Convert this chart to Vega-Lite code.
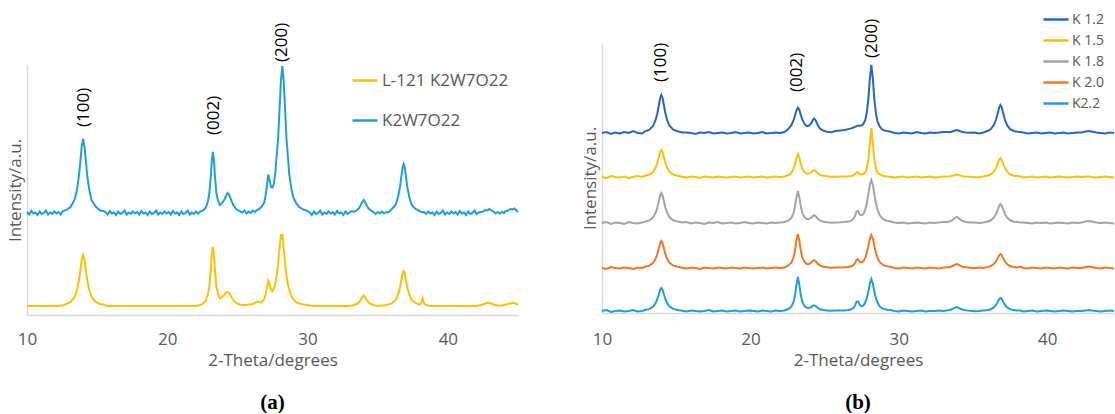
{
  "$schema": "https://vega.github.io/schema/vega-lite/v6.json",
  "background": "white",
  "padding": {"left": 6, "top": 5, "right": 0, "bottom": 0},
  "bounds": "flush",
  "spacing": 84,
  "config": {
    "view": {"stroke": null},
    "font": "Open Sans",
    "axis": {"domainColor": "#d9d9d9", "domainWidth": 1.5, "grid": false, "labelColor": "#595959", "labelFontSize": 17, "labelFont": "Open Sans", "titleColor": "#595959", "titleFontSize": 17, "titleFontWeight": "normal", "titleFont": "Open Sans"},
    "legend": {"labelColor": "#595959", "labelFont": "Open Sans", "symbolType": "stroke", "symbolSize": 625, "symbolStrokeWidth": 2.5},
    "title": {"font": "Liberation Serif", "fontSize": 21, "fontWeight": "bold", "color": "#000000"}
  },
  "resolve": {"scale": {"color": "independent", "x": "independent", "y": "independent"}, "legend": {"color": "independent"}},
  "hconcat": [
    {
      "width": 491,
      "height": 272,
      "title": {"text": "(a)", "orient": "bottom", "offset": 24},
      "data": {"values": [
{"x":10,"k":103,"l":9},{"x":10.15,"k":100.5,"l":9},{"x":10.3,"k":104,"l":9},{"x":10.45,"k":101.5,"l":9},{"x":10.6,"k":102.5,"l":9},{"x":10.75,"k":100,"l":9},{"x":10.9,"k":103.5,"l":9},{"x":11.05,"k":101,"l":9},{"x":11.2,"k":102,"l":9},{"x":11.35,"k":104.5,"l":9},{"x":11.5,"k":100.5,"l":9},{"x":11.65,"k":102.5,"l":9},{"x":11.8,"k":101,"l":9},{"x":11.95,"k":103.5,"l":9},{"x":12.1,"k":101.5,"l":9},{"x":12.25,"k":103,"l":9},{"x":12.4,"k":100.5,"l":9.5},{"x":12.55,"k":104,"l":9.5},
{"x":12.8,"k":105,"l":11},{"x":13.1,"k":108,"l":13},{"x":13.4,"k":115.5,"l":18},{"x":13.55,"k":124,"l":24.5},{"x":13.7,"k":139,"l":34.5},{"x":13.8,"k":153,"l":44},{"x":13.9,"k":168.5,"l":55},{"x":14,"k":176,"l":60},{"x":14.1,"k":168,"l":55},{"x":14.2,"k":153.5,"l":44},{"x":14.3,"k":138.5,"l":34.5},{"x":14.45,"k":124.5,"l":24.5},{"x":14.6,"k":115,"l":18},{"x":14.9,"k":108.5,"l":13},{"x":15.2,"k":104.5,"l":11},{"x":15.45,"k":104,"l":10.5},
{"x":15.6,"k":103,"l":9.5},{"x":15.75,"k":100.5,"l":9},{"x":15.9,"k":104,"l":9},{"x":16.05,"k":101.5,"l":9},{"x":16.2,"k":102.5,"l":9},{"x":16.35,"k":100,"l":9},{"x":16.5,"k":103.5,"l":9},{"x":16.65,"k":101,"l":9},{"x":16.8,"k":102,"l":9},{"x":16.95,"k":104.5,"l":9},{"x":17.1,"k":100.5,"l":9},{"x":17.25,"k":102.5,"l":9},{"x":17.4,"k":101,"l":9},{"x":17.55,"k":103.5,"l":9},{"x":17.7,"k":101.5,"l":9},{"x":17.85,"k":103,"l":9},{"x":18,"k":100.5,"l":9},{"x":18.15,"k":104,"l":9},{"x":18.3,"k":101.5,"l":9},{"x":18.45,"k":102.5,"l":9},{"x":18.6,"k":100,"l":9},{"x":18.75,"k":103.5,"l":9},{"x":18.9,"k":101,"l":9},{"x":19.05,"k":102,"l":9},{"x":19.2,"k":104.5,"l":9},{"x":19.35,"k":100.5,"l":9},{"x":19.5,"k":102.5,"l":9},{"x":19.65,"k":101,"l":9},{"x":19.8,"k":103.5,"l":9},{"x":19.95,"k":101.5,"l":9},{"x":20.1,"k":103,"l":9},{"x":20.25,"k":100.5,"l":9},{"x":20.4,"k":104,"l":9},{"x":20.55,"k":101.5,"l":9},{"x":20.7,"k":102.5,"l":9},{"x":20.85,"k":100,"l":9},{"x":21,"k":103.5,"l":9},{"x":21.15,"k":101,"l":9},{"x":21.3,"k":102,"l":9},{"x":21.45,"k":104.5,"l":9},{"x":21.6,"k":100.5,"l":9},{"x":21.75,"k":102.5,"l":9},{"x":21.9,"k":101,"l":9},{"x":22.05,"k":103.5,"l":9},{"x":22.2,"k":101.5,"l":9.5},{"x":22.35,"k":103.5,"l":10},
{"x":22.55,"k":104.5,"l":11.5},{"x":22.75,"k":107.5,"l":14.5},{"x":22.9,"k":114,"l":21},{"x":23,"k":122,"l":28.5},{"x":23.1,"k":138.5,"l":44.5},{"x":23.18,"k":155.5,"l":61},{"x":23.25,"k":163,"l":68},{"x":23.32,"k":155.5,"l":60},{"x":23.4,"k":138.5,"l":44.5},{"x":23.5,"k":122,"l":28.5},{"x":23.6,"k":115.5,"l":22},{"x":23.75,"k":110,"l":16.5},{"x":23.9,"k":112,"l":18},{"x":24.05,"k":115,"l":20},{"x":24.2,"k":119.5,"l":22.5},{"x":24.3,"k":122,"l":23},{"x":24.4,"k":120.5,"l":22},{"x":24.55,"k":115,"l":18.5},{"x":24.7,"k":110,"l":15},{"x":24.9,"k":106,"l":12},{"x":25.15,"k":104,"l":10.5},
{"x":25.35,"k":102.5,"l":10},{"x":25.5,"k":104.5,"l":10},{"x":25.65,"k":101.5,"l":10},{"x":25.8,"k":103.5,"l":10.5},{"x":25.95,"k":102,"l":10.5},{"x":26.1,"k":104.5,"l":11},{"x":26.25,"k":103,"l":12},{"x":26.4,"k":105,"l":13.5},{"x":26.55,"k":106,"l":13},{"x":26.7,"k":108,"l":12.5},{"x":26.9,"k":112,"l":15.5},{"x":27,"k":119,"l":20},{"x":27.1,"k":129,"l":27},{"x":27.2,"k":140.5,"l":34},{"x":27.3,"k":134,"l":29.6},{"x":27.4,"k":128,"l":25.6},{"x":27.5,"k":127.5,"l":24},{"x":27.6,"k":131.5,"l":27},{"x":27.7,"k":142,"l":31.6},{"x":27.8,"k":159.5,"l":39.5},{"x":27.9,"k":176.5,"l":51.5},{"x":28,"k":205.5,"l":66.6},{"x":28.1,"k":234,"l":80},{"x":28.2,"k":249,"l":80},{"x":28.3,"k":234,"l":66.6},{"x":28.4,"k":204.5,"l":51.5},{"x":28.5,"k":175.5,"l":39},{"x":28.6,"k":158,"l":30.6},{"x":28.7,"k":140,"l":25},{"x":28.85,"k":125.5,"l":19},{"x":29,"k":117,"l":15.5},{"x":29.2,"k":111.5,"l":12.6},{"x":29.4,"k":108,"l":11.5},{"x":29.7,"k":105.5,"l":10.6},{"x":30,"k":104,"l":10},
{"x":30.15,"k":102.5,"l":9.5},{"x":30.3,"k":100,"l":9},{"x":30.45,"k":103.5,"l":9},{"x":30.6,"k":101,"l":9},{"x":30.75,"k":102,"l":9},{"x":30.9,"k":104.5,"l":9},{"x":31.05,"k":100.5,"l":9},{"x":31.2,"k":102.5,"l":9},{"x":31.35,"k":101,"l":9},{"x":31.5,"k":103.5,"l":9},{"x":31.65,"k":101.5,"l":9},{"x":31.8,"k":103,"l":9},{"x":31.95,"k":100.5,"l":9},{"x":32.1,"k":104,"l":9},{"x":32.25,"k":101.5,"l":9},{"x":32.4,"k":102.5,"l":9},{"x":32.55,"k":100,"l":9},{"x":32.7,"k":103.5,"l":9},{"x":32.85,"k":101,"l":9},{"x":33,"k":102.5,"l":9.3},{"x":33.15,"k":104,"l":9.5},
{"x":33.3,"k":103.2,"l":10},{"x":33.5,"k":104.5,"l":11},{"x":33.65,"k":106.5,"l":12.5},{"x":33.8,"k":110,"l":15.3},{"x":33.9,"k":113,"l":18},{"x":34,"k":115,"l":19.5},{"x":34.1,"k":113,"l":18},{"x":34.2,"k":110,"l":15.3},{"x":34.35,"k":106.5,"l":12.5},{"x":34.5,"k":104.5,"l":11},{"x":34.7,"k":103,"l":10},{"x":34.85,"k":101,"l":9.5},{"x":35,"k":103,"l":9.3},{"x":35.15,"k":101.5,"l":9.3},{"x":35.3,"k":103.5,"l":9.5},{"x":35.45,"k":101.5,"l":9.5},{"x":35.6,"k":103,"l":10},{"x":35.75,"k":102.5,"l":10.5},{"x":35.9,"k":104.5,"l":11},
{"x":36,"k":106,"l":12},{"x":36.15,"k":108,"l":13.5},{"x":36.3,"k":111,"l":15.3},{"x":36.45,"k":118,"l":20.5},{"x":36.6,"k":129,"l":28},{"x":36.7,"k":140,"l":36},{"x":36.78,"k":148,"l":42},{"x":36.85,"k":151,"l":44},{"x":36.92,"k":148,"l":42},{"x":37,"k":140,"l":36},{"x":37.1,"k":129,"l":28},{"x":37.25,"k":118,"l":20.5},{"x":37.4,"k":111,"l":15.3},{"x":37.55,"k":108,"l":13.5},{"x":37.7,"k":106,"l":12},{"x":37.85,"k":105,"l":11},{"x":38,"k":104,"l":10.5},{"x":38.1,"k":103,"l":12},{"x":38.2,"k":102.5,"l":17},{"x":38.3,"k":103,"l":12},{"x":38.45,"k":101,"l":10},{"x":38.6,"k":103.5,"l":9.5},{"x":38.75,"k":101.5,"l":9.3},
{"x":38.9,"k":102.5,"l":9},{"x":39.05,"k":100,"l":9},{"x":39.2,"k":103.5,"l":9},{"x":39.35,"k":101,"l":9},{"x":39.5,"k":102,"l":9},{"x":39.65,"k":104.5,"l":9},{"x":39.8,"k":100.5,"l":9},{"x":39.95,"k":102.5,"l":9},{"x":40.1,"k":101,"l":9},{"x":40.25,"k":103.5,"l":9},{"x":40.4,"k":101.5,"l":9},{"x":40.55,"k":103,"l":9},{"x":40.7,"k":100.5,"l":9},{"x":40.85,"k":104,"l":9},{"x":41,"k":101.5,"l":9},{"x":41.15,"k":102.5,"l":9},{"x":41.3,"k":100,"l":9},{"x":41.45,"k":103.5,"l":9},{"x":41.6,"k":101,"l":9},{"x":41.75,"k":102,"l":9},{"x":41.9,"k":104.5,"l":9},{"x":42.05,"k":101,"l":9},{"x":42.2,"k":102.5,"l":9.5},{"x":42.35,"k":103,"l":10},{"x":42.5,"k":103.5,"l":10.5},{"x":42.65,"k":105,"l":11.5},{"x":42.8,"k":104.5,"l":12},{"x":42.95,"k":106,"l":12},{"x":43.1,"k":104.5,"l":11.5},{"x":43.25,"k":103.5,"l":10.5},{"x":43.4,"k":101.5,"l":10},{"x":43.55,"k":103,"l":9.5},{"x":43.7,"k":101.5,"l":9.5},{"x":43.85,"k":103,"l":9.5},{"x":44,"k":102,"l":10},{"x":44.15,"k":104,"l":10.5},{"x":44.3,"k":104.5,"l":11},{"x":44.45,"k":106,"l":11.5},{"x":44.6,"k":105.5,"l":12},{"x":44.75,"k":106.5,"l":12},{"x":44.9,"k":104.5,"l":11},{"x":45,"k":103,"l":10}
      ]},
      "encoding": {
        "x": {"field": "x", "type": "quantitative", "scale": {"domain": [10, 45], "nice": false, "zero": false},
              "axis": {"values": [10, 20, 30, 40], "ticks": false, "labelFlush": false, "labelPadding": 16, "title": "2-Theta/degrees", "titlePadding": 5}}
      },
      "layer": [
        {"mark": {"type": "line", "strokeWidth": 2},
         "encoding": {
           "y": {"field": "l", "type": "quantitative", "scale": {"domain": [0, 250], "range": [272, 22], "nice": false, "zero": false}, "axis": {"title": "Intensity/a.u.", "labels": false, "ticks": false, "titlePadding": 3}},
           "color": {"datum": "L-121 K2W7O22", "type": "nominal", "scale": {"domain": ["L-121 K2W7O22", "K2W7O22"], "range": ["#ffc000", "#1f9fdc"]},
                     "legend": {"orient": "none", "legendX": 324, "legendY": 23.5, "title": null, "labelFontSize": 17, "labelOffset": 3, "rowPadding": 18}}
         }},
        {"mark": {"type": "line", "strokeWidth": 2},
         "encoding": {
           "y": {"field": "k", "type": "quantitative", "scale": {"domain": [0, 250], "range": [272, 22], "nice": false, "zero": false}, "axis": {"title": "Intensity/a.u.", "labels": false, "ticks": false, "titlePadding": 3}},
           "color": {"datum": "K2W7O22", "type": "nominal", "scale": {"domain": ["L-121 K2W7O22", "K2W7O22"], "range": ["#ffc000", "#1f9fdc"]},
                     "legend": {"orient": "none", "legendX": 324, "legendY": 23.5, "title": null, "labelFontSize": 17, "labelOffset": 3, "rowPadding": 18}}
         }},
        {"data": {"values": [{"x": 14.06, "y": 188, "t": "(100)"}, {"x": 23.33, "y": 180, "t": "(002)"}, {"x": 28.17, "y": 253, "t": "(200)"}]},
         "mark": {"type": "text", "angle": 270, "align": "left", "baseline": "middle", "fontSize": 17, "font": "Open Sans", "color": "#000000"},
         "encoding": {
           "y": {"field": "y", "type": "quantitative", "scale": {"domain": [0, 250], "range": [272, 22], "nice": false, "zero": false}, "axis": {"title": "Intensity/a.u.", "labels": false, "ticks": false, "titlePadding": 3}},
           "text": {"field": "t"}
         }}
      ]
    },
    {
      "width": 512,
      "height": 270,
      "title": {"text": "(b)", "orient": "bottom", "offset": 24},
      "data": {"values": [
{"x":10,"a":180,"b":136,"c":90,"d":45,"e":2},
{"x":10.3,"a":181,"b":135,"c":91,"d":44,"e":3},
{"x":10.6,"a":179,"b":137,"c":89,"d":46,"e":1},
{"x":10.9,"a":180.5,"b":136,"c":90.5,"d":45,"e":2},
{"x":11.2,"a":179.5,"b":135.5,"c":90,"d":44.5,"e":2.5},
{"x":11.5,"a":181,"b":136.5,"c":89,"d":45.5,"e":1.5},
{"x":11.8,"a":180,"b":135,"c":91,"d":45,"e":2},
{"x":12.1,"a":182,"b":136,"c":90,"d":44,"e":3},
{"x":12.4,"a":180,"b":137,"c":89.5,"d":45.5,"e":1.5},
{"x":12.7,"a":179.5,"b":136,"c":90.5,"d":45,"e":2},
{"x":12.9,"a":181.7,"b":137.2,"c":91.4,"d":46.2,"e":3},
{"x":13.2,"a":183.4,"b":138.4,"c":92.7,"d":47.4,"e":4.1},
{"x":13.45,"a":187.2,"b":141.1,"c":95.7,"d":50.1,"e":6.4},
{"x":13.6,"a":192.5,"b":144.9,"c":99.9,"d":53.9,"e":9.6},
{"x":13.72,"a":199,"b":149.5,"c":105,"d":58.5,"e":13.5},
{"x":13.82,"a":207,"b":155.2,"c":111.3,"d":64.2,"e":18.3},
{"x":13.92,"a":215,"b":160.8,"c":117.6,"d":69.8,"e":23.2},
{"x":14,"a":218,"b":163,"c":120,"d":72,"e":25},
{"x":14.08,"a":215,"b":160.8,"c":117.6,"d":69.8,"e":23.2},
{"x":14.18,"a":207,"b":155.2,"c":111.3,"d":64.2,"e":18.3},
{"x":14.28,"a":199,"b":149.5,"c":105,"d":58.5,"e":13.5},
{"x":14.4,"a":192.5,"b":144.9,"c":99.9,"d":53.9,"e":9.6},
{"x":14.55,"a":187.2,"b":141.1,"c":95.7,"d":50.1,"e":6.4},
{"x":14.8,"a":183.4,"b":138.4,"c":92.7,"d":47.4,"e":4.1},
{"x":15.1,"a":181.7,"b":137.2,"c":91.4,"d":46.2,"e":3},
{"x":15.4,"a":180.6,"b":136.3,"c":90.4,"d":45.3,"e":2.2},
{"x":15.7,"a":180.5,"b":135.5,"c":91,"d":44.5,"e":1.5},
{"x":16,"a":180,"b":136.5,"c":89.5,"d":45.5,"e":2.5},
{"x":16.3,"a":179,"b":136,"c":90.5,"d":45,"e":2},
{"x":16.6,"a":180.5,"b":135,"c":90,"d":44,"e":1.5},
{"x":16.9,"a":180,"b":136.5,"c":89,"d":45.5,"e":2},
{"x":17.2,"a":181,"b":136,"c":90.5,"d":45,"e":3},
{"x":17.5,"a":179.5,"b":135.5,"c":90,"d":44.5,"e":1.5},
{"x":17.8,"a":180,"b":136.5,"c":91,"d":45.5,"e":2},
{"x":18.1,"a":180.5,"b":136,"c":89.5,"d":45,"e":2.5},
{"x":18.4,"a":179.5,"b":135.5,"c":90,"d":44.5,"e":1.5},
{"x":18.7,"a":180,"b":136,"c":90.5,"d":45.5,"e":2},
{"x":19,"a":181,"b":136.5,"c":89.5,"d":45,"e":2.5},
{"x":19.3,"a":179.5,"b":135.5,"c":90,"d":44.5,"e":1.5},
{"x":19.6,"a":180,"b":136,"c":91,"d":45.5,"e":2},
{"x":19.9,"a":180.5,"b":136.5,"c":90,"d":45,"e":2.5},
{"x":20.2,"a":179.5,"b":135.5,"c":89.5,"d":44.5,"e":2},
{"x":20.5,"a":180,"b":136,"c":90.5,"d":45,"e":1.5},
{"x":20.8,"a":181,"b":136.5,"c":90,"d":45.5,"e":2.5},
{"x":21.1,"a":179.5,"b":135.5,"c":89.5,"d":44.5,"e":2},
{"x":21.4,"a":180,"b":136,"c":90.5,"d":45,"e":1.5},
{"x":21.7,"a":180.5,"b":136.5,"c":90,"d":45.5,"e":2.5},
{"x":22,"a":180,"b":136,"c":90.5,"d":45,"e":2},
{"x":22.3,"a":181,"b":136.5,"c":91,"d":45.5,"e":2.5},
{"x":22.55,"a":184,"b":137.8,"c":92.4,"d":47.6,"e":4},
{"x":22.75,"a":187.5,"b":139.9,"c":94.8,"d":50.1,"e":6.1},
{"x":22.9,"a":192.5,"b":144,"c":99.6,"d":55.2,"e":10.8},
{"x":23,"a":197.3,"b":148.7,"c":106,"d":62,"e":17.3},
{"x":23.1,"a":202.5,"b":155,"c":115.6,"d":72.2,"e":27.8},
{"x":23.2,"a":205.5,"b":159,"c":122,"d":79,"e":36},
{"x":23.3,"a":203,"b":155,"c":115.6,"d":72.2,"e":27.8},
{"x":23.4,"a":198,"b":148.9,"c":106.3,"d":62.3,"e":17.4},
{"x":23.5,"a":193.4,"b":144.3,"c":100,"d":55.6,"e":11.1},
{"x":23.65,"a":189,"b":140.6,"c":95.6,"d":50.9,"e":6.7},
{"x":23.8,"a":186.8,"b":139.4,"c":93.9,"d":49,"e":5.3},
{"x":23.95,"a":187.3,"b":139.5,"c":93.9,"d":49,"e":5.1},
{"x":24.1,"a":189.8,"b":140.7,"c":95.3,"d":50.4,"e":6},
{"x":24.2,"a":192.9,"b":142.1,"c":96.9,"d":52,"e":7.1},
{"x":24.3,"a":194.5,"b":142.8,"c":97.8,"d":52.8,"e":7.7},
{"x":24.4,"a":192.5,"b":141.9,"c":96.7,"d":51.7,"e":6.9},
{"x":24.55,"a":187.5,"b":139.6,"c":94.1,"d":49.1,"e":5},
{"x":24.7,"a":184.3,"b":138.1,"c":92.4,"d":47.4,"e":3.8},
{"x":24.9,"a":182.3,"b":137.2,"c":91.3,"d":46.3,"e":3},
{"x":25.15,"a":181.3,"b":136.7,"c":90.7,"d":45.7,"e":2.5},
{"x":25.45,"a":180.8,"b":136.3,"c":90.3,"d":45.3,"e":2.2},
{"x":25.75,"a":182,"b":136.3,"c":90.6,"d":45.4,"e":2.4},
{"x":26.05,"a":182.5,"b":136.4,"c":90.7,"d":45.5,"e":2.4},
{"x":26.35,"a":183,"b":136.5,"c":90.9,"d":45.7,"e":2.5},
{"x":26.6,"a":183.9,"b":136.7,"c":91.6,"d":46.1,"e":3},
{"x":26.8,"a":184.6,"b":137,"c":92.4,"d":46.8,"e":3.7},
{"x":26.95,"a":185.5,"b":137.7,"c":94.3,"d":48.1,"e":5.2},
{"x":27.05,"a":186.1,"b":138.8,"c":96.9,"d":50,"e":7.5},
{"x":27.15,"a":186.9,"b":140.5,"c":101.4,"d":53.1,"e":11.1},
{"x":27.25,"a":187.5,"b":140.6,"c":102,"d":53.6,"e":11.5},
{"x":27.35,"a":187.3,"b":139.2,"c":98.9,"d":51.5,"e":8.5},
{"x":27.45,"a":187.5,"b":138.7,"c":97.8,"d":50.8,"e":7.1},
{"x":27.55,"a":188.1,"b":138.6,"c":97.9,"d":51,"e":7.1},
{"x":27.65,"a":190.1,"b":139.6,"c":100,"d":52.6,"e":8.2},
{"x":27.75,"a":193.5,"b":140.9,"c":103.8,"d":55.6,"e":11},
{"x":27.85,"a":201.3,"b":144.8,"c":110.2,"d":60.5,"e":15.1},
{"x":27.95,"a":214.6,"b":153.6,"c":118.8,"d":67.1,"e":21.5},
{"x":28.05,"a":234.6,"b":169.8,"c":128.3,"d":74.4,"e":29.5},
{"x":28.15,"a":248.2,"b":185,"c":133,"d":78,"e":34},
{"x":28.25,"a":234.4,"b":169.8,"c":128.3,"d":74.4,"e":29.5},
{"x":28.35,"a":214,"b":153.6,"c":118.8,"d":67.1,"e":21.5},
{"x":28.45,"a":200.4,"b":144.8,"c":110.2,"d":60.5,"e":15.1},
{"x":28.55,"a":192.2,"b":140.9,"c":103.8,"d":55.6,"e":11},
{"x":28.7,"a":186.8,"b":138.7,"c":98.2,"d":51.3,"e":6.8},
{"x":28.85,"a":184,"b":137.7,"c":95.2,"d":49,"e":4.9},
{"x":29,"a":182.7,"b":137.1,"c":93.4,"d":47.6,"e":4.1},
{"x":29.2,"a":181.9,"b":136.6,"c":92.2,"d":46.7,"e":3.3},
{"x":29.45,"a":181.2,"b":136.3,"c":91.5,"d":46.2,"e":2.9},
{"x":29.7,"a":180,"b":135.5,"c":90.5,"d":45,"e":2},
{"x":30,"a":179.5,"b":136,"c":90,"d":44.5,"e":1.5},
{"x":30.3,"a":180.5,"b":136.5,"c":90.5,"d":45.5,"e":2.5},
{"x":30.6,"a":180,"b":135.5,"c":89.5,"d":45,"e":2},
{"x":30.9,"a":179.5,"b":136,"c":90,"d":44.5,"e":1.5},
{"x":31.2,"a":181,"b":136.5,"c":90.5,"d":45.5,"e":2},
{"x":31.5,"a":180,"b":135.5,"c":90,"d":45,"e":2.5},
{"x":31.8,"a":179.5,"b":136,"c":89.5,"d":44.5,"e":1.5},
{"x":32.1,"a":180.5,"b":136.5,"c":90.5,"d":45.5,"e":2},
{"x":32.4,"a":180,"b":135.5,"c":90,"d":45,"e":2},
{"x":32.7,"a":180.5,"b":136,"c":90.5,"d":44.5,"e":2.5},
{"x":33,"a":181,"b":136.5,"c":91,"d":45.5,"e":2},
{"x":33.3,"a":181,"b":136.4,"c":91,"d":45.7,"e":2.7},
{"x":33.5,"a":181,"b":136.8,"c":92,"d":46.3,"e":3.3},
{"x":33.65,"a":181.7,"b":137.4,"c":93.3,"d":47.2,"e":4.2},
{"x":33.78,"a":182.5,"b":138.1,"c":95,"d":48.4,"e":5.4},
{"x":33.9,"a":183,"b":138.5,"c":96,"d":49,"e":6},
{"x":34.02,"a":182.5,"b":138.1,"c":95,"d":48.4,"e":5.4},
{"x":34.15,"a":181.7,"b":137.4,"c":93.3,"d":47.2,"e":4.2},
{"x":34.3,"a":181,"b":136.8,"c":92,"d":46.3,"e":3.3},
{"x":34.5,"a":180.5,"b":136.4,"c":91,"d":45.7,"e":2.7},
{"x":34.8,"a":180.2,"b":136.2,"c":90.4,"d":45.3,"e":2.3},
{"x":35.1,"a":180.5,"b":135.8,"c":90.5,"d":44.8,"e":1.8},
{"x":35.4,"a":179.5,"b":136,"c":90,"d":45.5,"e":2},
{"x":35.7,"a":180.5,"b":136.5,"c":90.5,"d":45,"e":2.5},
{"x":36,"a":182.2,"b":137.5,"c":91.5,"d":46.1,"e":3},
{"x":36.2,"a":183.9,"b":138.7,"c":92.7,"d":47,"e":3.8},
{"x":36.4,"a":187.8,"b":141.3,"c":95.3,"d":48.9,"e":5.6},
{"x":36.55,"a":193.2,"b":144.9,"c":98.9,"d":51.6,"e":8.1},
{"x":36.67,"a":199.9,"b":149.5,"c":103.5,"d":54.9,"e":11.2},
{"x":36.77,"a":205.8,"b":153.5,"c":107.5,"d":57.9,"e":14},
{"x":36.85,"a":208,"b":155,"c":109,"d":59,"e":15},
{"x":36.93,"a":205.8,"b":153.5,"c":107.5,"d":57.9,"e":14},
{"x":37.03,"a":199.9,"b":149.5,"c":103.5,"d":54.9,"e":11.2},
{"x":37.15,"a":193.2,"b":144.9,"c":98.9,"d":51.6,"e":8.1},
{"x":37.3,"a":187.8,"b":141.3,"c":95.3,"d":48.9,"e":5.6},
{"x":37.5,"a":183.9,"b":138.7,"c":92.7,"d":47,"e":3.8},
{"x":37.75,"a":182,"b":137.3,"c":91.3,"d":46,"e":2.9},
{"x":38,"a":181.3,"b":136.9,"c":90.9,"d":45.6,"e":2.6},
{"x":38.2,"a":180.9,"b":136.6,"c":90.6,"d":46.5,"e":2.4},
{"x":38.4,"a":180.5,"b":135.5,"c":90.5,"d":45,"e":1.5},
{"x":38.7,"a":179.5,"b":136,"c":90,"d":44.5,"e":2},
{"x":39,"a":180,"b":136.5,"c":89.5,"d":45.5,"e":2.5},
{"x":39.3,"a":180.5,"b":135.5,"c":90.5,"d":45,"e":1.5},
{"x":39.6,"a":179.5,"b":136,"c":90,"d":44.5,"e":2},
{"x":39.9,"a":180,"b":136.5,"c":90.5,"d":45.5,"e":2.5},
{"x":40.2,"a":180.5,"b":135.5,"c":89.5,"d":45,"e":2},
{"x":40.5,"a":179.5,"b":136,"c":90,"d":44.5,"e":1.5},
{"x":40.8,"a":180,"b":136.5,"c":90.5,"d":45.5,"e":2},
{"x":41.1,"a":180.5,"b":136,"c":90,"d":45,"e":2.5},
{"x":41.4,"a":179.5,"b":135.5,"c":89.5,"d":44.5,"e":2},
{"x":41.7,"a":180,"b":136,"c":90.5,"d":45.5,"e":1.5},
{"x":42,"a":180.5,"b":136.5,"c":90,"d":45,"e":2},
{"x":42.3,"a":180.5,"b":136,"c":90.5,"d":45,"e":2},
{"x":42.6,"a":181.5,"b":136.5,"c":91.5,"d":46,"e":2.5},
{"x":42.8,"a":182,"b":136.5,"c":92,"d":46.5,"e":3},
{"x":43,"a":181.5,"b":136,"c":91.5,"d":46,"e":2.5},
{"x":43.3,"a":180.5,"b":135.5,"c":90.5,"d":45,"e":2},
{"x":43.6,"a":180,"b":136,"c":90,"d":44.5,"e":1.5},
{"x":43.9,"a":179.5,"b":136.5,"c":90.5,"d":45.5,"e":2},
{"x":44.2,"a":180.5,"b":136,"c":90,"d":45,"e":2.5},
{"x":44.5,"a":180,"b":135.5,"c":89.5,"d":44.5,"e":2}
      ]},
      "encoding": {
        "x": {"field": "x", "type": "quantitative", "scale": {"domain": [10, 44.5], "nice": false, "zero": false},
              "axis": {"values": [10, 20, 30, 40], "ticks": true, "tickSize": -5, "tickColor": "#d9d9d9", "tickWidth": 1.5, "labelFlush": false, "labelPadding": 23, "title": "2-Theta/degrees", "titlePadding": 5}}
      },
      "layer": [
        {"mark": {"type": "line", "strokeWidth": 2},
         "encoding": {"y": {"field": "a", "type": "quantitative", "scale": {"domain": [0, 270], "nice": false, "zero": false}, "axis": {"title": "Intensity/a.u.", "labels": false, "ticks": false, "titlePadding": 3}},
           "color": {"datum": "K 1.2", "type": "nominal", "scale": {"domain": ["K 1.2", "K 1.5", "K 1.8", "K 2.0", "K2.2"], "range": ["#2468c4", "#ffc000", "#a5a5a5", "#f5761f", "#1f9fdc"]},
                     "legend": {"orient": "none", "legendX": 440, "legendY": -37.5, "title": null, "labelFontSize": 14, "labelOffset": 2, "rowPadding": -2}}}},
        {"mark": {"type": "line", "strokeWidth": 2},
         "encoding": {"y": {"field": "b", "type": "quantitative", "scale": {"domain": [0, 270], "nice": false, "zero": false}, "axis": {"title": "Intensity/a.u.", "labels": false, "ticks": false, "titlePadding": 3}},
           "color": {"datum": "K 1.5", "type": "nominal", "scale": {"domain": ["K 1.2", "K 1.5", "K 1.8", "K 2.0", "K2.2"], "range": ["#2468c4", "#ffc000", "#a5a5a5", "#f5761f", "#1f9fdc"]},
                     "legend": {"orient": "none", "legendX": 440, "legendY": -37.5, "title": null, "labelFontSize": 14, "labelOffset": 2, "rowPadding": -2}}}},
        {"mark": {"type": "line", "strokeWidth": 2},
         "encoding": {"y": {"field": "c", "type": "quantitative", "scale": {"domain": [0, 270], "nice": false, "zero": false}, "axis": {"title": "Intensity/a.u.", "labels": false, "ticks": false, "titlePadding": 3}},
           "color": {"datum": "K 1.8", "type": "nominal", "scale": {"domain": ["K 1.2", "K 1.5", "K 1.8", "K 2.0", "K2.2"], "range": ["#2468c4", "#ffc000", "#a5a5a5", "#f5761f", "#1f9fdc"]},
                     "legend": {"orient": "none", "legendX": 440, "legendY": -37.5, "title": null, "labelFontSize": 14, "labelOffset": 2, "rowPadding": -2}}}},
        {"mark": {"type": "line", "strokeWidth": 2},
         "encoding": {"y": {"field": "d", "type": "quantitative", "scale": {"domain": [0, 270], "nice": false, "zero": false}, "axis": {"title": "Intensity/a.u.", "labels": false, "ticks": false, "titlePadding": 3}},
           "color": {"datum": "K 2.0", "type": "nominal", "scale": {"domain": ["K 1.2", "K 1.5", "K 1.8", "K 2.0", "K2.2"], "range": ["#2468c4", "#ffc000", "#a5a5a5", "#f5761f", "#1f9fdc"]},
                     "legend": {"orient": "none", "legendX": 440, "legendY": -37.5, "title": null, "labelFontSize": 14, "labelOffset": 2, "rowPadding": -2}}}},
        {"mark": {"type": "line", "strokeWidth": 2},
         "encoding": {"y": {"field": "e", "type": "quantitative", "scale": {"domain": [0, 270], "nice": false, "zero": false}, "axis": {"title": "Intensity/a.u.", "labels": false, "ticks": false, "titlePadding": 3}},
           "color": {"datum": "K2.2", "type": "nominal", "scale": {"domain": ["K 1.2", "K 1.5", "K 1.8", "K 2.0", "K2.2"], "range": ["#2468c4", "#ffc000", "#a5a5a5", "#f5761f", "#1f9fdc"]},
                     "legend": {"orient": "none", "legendX": 440, "legendY": -37.5, "title": null, "labelFontSize": 14, "labelOffset": 2, "rowPadding": -2}}}},
        {"data": {"values": [{"x": 14.0, "y": 231, "t": "(100)"}, {"x": 23.15, "y": 221, "t": "(002)"}, {"x": 28.2, "y": 255, "t": "(200)"}]},
         "mark": {"type": "text", "angle": 270, "align": "left", "baseline": "middle", "fontSize": 17, "font": "Open Sans", "color": "#000000"},
         "encoding": {"y": {"field": "y", "type": "quantitative", "scale": {"domain": [0, 270], "nice": false, "zero": false}, "axis": {"title": "Intensity/a.u.", "labels": false, "ticks": false, "titlePadding": 3}},
           "text": {"field": "t"}}}
      ]
    }
  ]
}
